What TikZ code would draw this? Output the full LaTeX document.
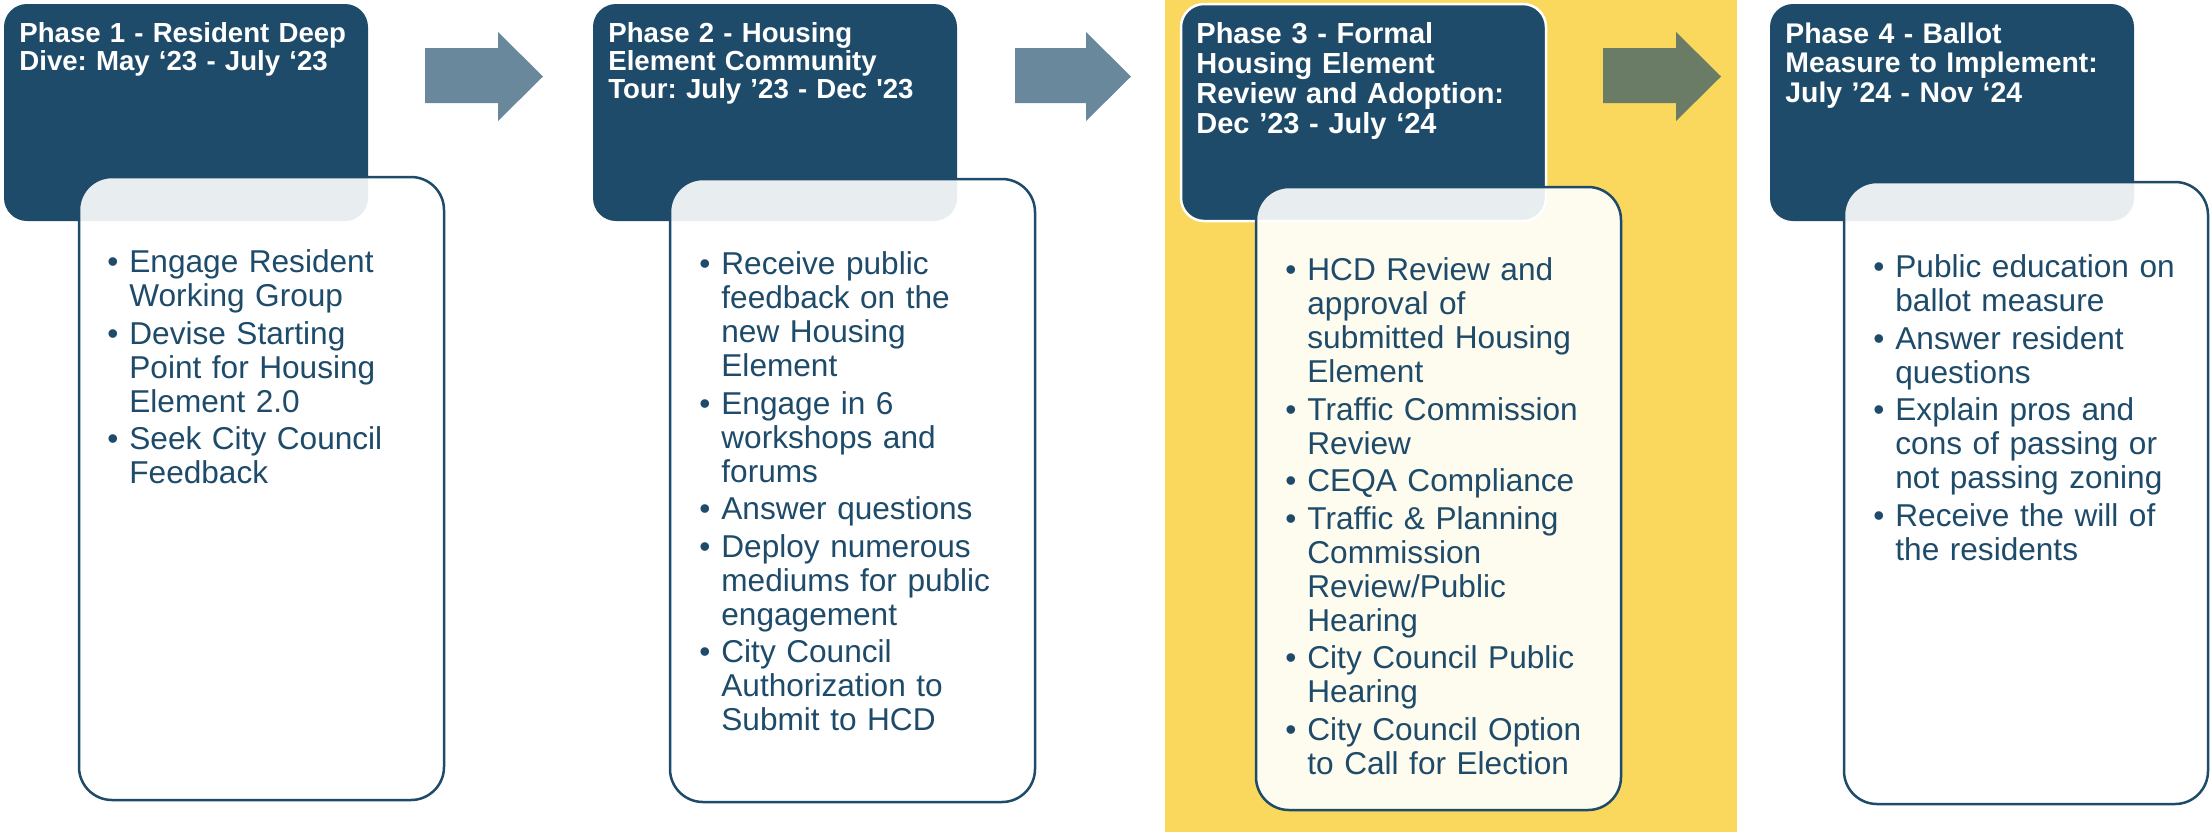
\documentclass[tikz,border=0pt]{standalone}
\usepackage{fontspec}
\setmainfont{Liberation Sans}
\definecolor{hdrblue}{HTML}{1E4B6A}
\definecolor{arrowblue}{HTML}{6A889C}
\definecolor{arrowgreen}{HTML}{6A7C66}
\definecolor{hlyellow}{HTML}{FAD75D}
\setlength{\parskip}{0pt}
\frenchspacing
\newcommand{\bitem}[2][1.8pt]{\par\vspace{#1}\hangindent=11pt\hangafter=1\noindent\rule{0pt}{12pt}\makebox[11pt][l]{\textbullet}#2}
\begin{document}
\begin{tikzpicture}[x=0.5pt,y=-0.5pt,
  hdr/.style={fill=hdrblue, rounded corners=11.5pt, minimum width=182pt, minimum height=108.5pt, inner sep=0pt},
  card/.style={draw=hdrblue, line width=1.25pt, fill=white, fill opacity=0.9, rounded corners=16.5pt, minimum width=182.5pt, minimum height=311.5pt, inner sep=0pt},
  body/.style={anchor=north west, inner sep=0pt, text width=190pt, align=left, text=hdrblue, font=\fontsize{15.8}{17}\selectfont},
  htext/.style={anchor=north west, inner sep=0pt, text width=180pt, align=left, text=white, font=\bfseries\fontsize{13.8}{14}\selectfont},
  htextbig/.style={htext, font=\bfseries\fontsize{14.5}{15}\selectfont},
  htextmid/.style={htext, font=\bfseries\fontsize{14.2}{14.7}\selectfont},
  blockarrow/.style={fill=arrowblue}
]
\useasboundingbox (0,0) rectangle (2211,832);
\fill[white] (0,0) rectangle (2211,832);
\fill[hlyellow] (1165,0) rectangle (1737,832);

% headers
\node[hdr] (h1) at (186,112.5) {};
\node[hdr] (h2) at (775,112.5) {};
\node[hdr, draw=white, line width=1.25pt, minimum width=182.5pt] (h3) at (1363.5,112.5) {};
\node[hdr] (h4) at (1952,112.5) {};

% cards
\node[card] (c1) at (261.5,488.5) {};
\node[card] (c2) at (852.5,490.5) {};
\node[card] (c3) at (1438.5,498.5) {};
\node[card, minimum width=182pt, minimum height=311pt] (c4) at (2026,493) {};

% arrows
\fill[blockarrow] (425,48) -- (498,48) -- (498,32) -- (543,76.5) -- (498,121) -- (498,103) -- (425,103) -- cycle;
\fill[blockarrow] (1015,48) -- (1086,48) -- (1086,32) -- (1131,76.5) -- (1086,121) -- (1086,103) -- (1015,103) -- cycle;
\fill[blockarrow, fill=arrowgreen] (1603,48) -- (1676,48) -- (1676,32) -- (1721,76.5) -- (1676,121) -- (1676,103) -- (1603,103) -- cycle;

% header texts
\node[htext] (t1) at (19,20) {\rule{0pt}{11pt}Phase 1 - Resident Deep\newline Dive: May ‘23 - July ‘23};
\node[htext] (t2) at (608,20) {\rule{0pt}{11pt}Phase 2 - Housing\newline Element Community\newline Tour: July ’23 - Dec \textquotesingle23};
\node[htextbig] (t3) at (1196,21) {\rule{0pt}{11pt}Phase 3 - Formal\newline Housing Element\newline Review and Adoption:\newline Dec ’23 - July ‘24};
\node[htextmid] (t4) at (1785,21) {\rule{0pt}{11pt}Phase 4 - Ballot\newline Measure to Implement:\newline July ’24 - Nov ‘24};

% body texts
\node[body] (b1) at (107,238) {%
\bitem[0pt]{Engage Resident\newline Working Group}%
\bitem{Devise Starting\newline Point for Housing\newline Element 2.0}%
\bitem{Seek City Council\newline Feedback}\par};

\node[body] (b2) at (699,240) {%
\bitem[0pt]{Receive public\newline feedback on the\newline new Housing\newline Element}%
\bitem{Engage in 6\newline workshops and\newline forums}%
\bitem{Answer questions}%
\bitem{Deploy numerous\newline mediums for public\newline engagement}%
\bitem{City Council\newline Authorization to\newline Submit to HCD}\par};

\node[body] (b3) at (1285,246) {%
\bitem[0pt]{HCD Review and\newline approval of\newline submitted Housing\newline Element}%
\bitem{Traffic Commission\newline Review}%
\bitem{CEQA Compliance}%
\bitem{Traffic \& Planning\newline Commission\newline Review/Public\newline Hearing}%
\bitem{City Council Public\newline Hearing}%
\bitem{City Council Option\newline to Call for Election}\par};

\node[body] (b4) at (1873,243) {%
\bitem[0pt]{Public education on\newline ballot measure}%
\bitem{Answer resident\newline questions}%
\bitem{Explain pros and\newline cons of passing or\newline not passing zoning}%
\bitem{Receive the will of\newline the residents}\par};
\end{tikzpicture}
\end{document}
